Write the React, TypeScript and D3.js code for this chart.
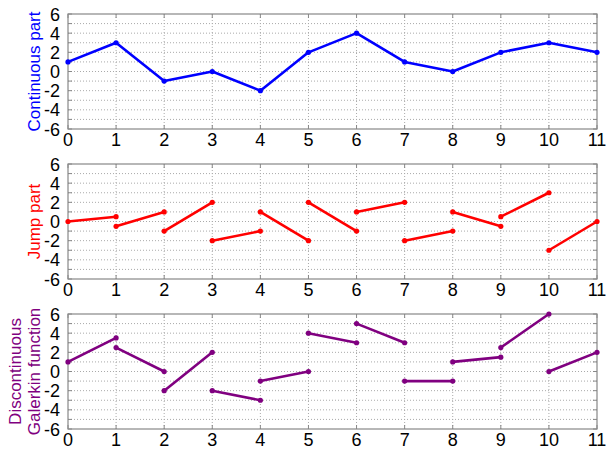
import React from "react"
import * as d3 from "d3"

// nodes 0..11
const nodes = [0, 1, 2, 3, 4, 5, 6, 7, 8, 9, 10, 11]
const yTicks = [6, 4, 2, 0, -2, -4, -6]

// continuous part, value at each node
const continuousValues = [1, 3, -1, 0, -2, 2, 4, 1, 0, 2, 3, 2]

// jump part, per element: value at left end and right end
const jumpLeft = [0, -0.5, -1, -2, 1, 2, 1, -2, 1, 0.5, -3]
const jumpRight = [0.5, 1, 2, -1, -2, -1, 2, -1, -0.5, 3, 0]

// discontinuous galerkin function, per element
const dgLeft = [1, 2.5, -2, -2, -1, 4, 5, -1, 1, 2.5, 0]
const dgRight = [3.5, 0, 2, -3, 0, 3, 3, -1, 1.5, 6, 2]

const W = 606
const H = 451
const left = 68
const right = 597
const panelTops = [14, 164, 314]
const panelH = 115
const font = "Arial, 'Liberation Sans', Helvetica, sans-serif"

type Seg = [number, number][]

interface PanelProps {
  top: number
  color: string
  labels: string[]
  segments: Seg[]
}

const Panel: React.FC<PanelProps> = ({ top, color, labels, segments }) => {
  const x = d3.scaleLinear().domain([0, 11]).range([left, right])
  const y = d3.scaleLinear().domain([-6, 6]).range([top + panelH, top])
  const line = d3.line<[number, number]>().x(d => x(d[0])).y(d => y(d[1]))
  const gridY = d3.range(-5, 6)
  const tickYs = d3.range(-6, 7)
  const midY = top + panelH / 2

  return (
    <g>
      {/* grid */}
      {gridY.map(v => (
        <line key={"gy" + v} x1={left} x2={right} y1={y(v)} y2={y(v)}
          stroke="#aaa" strokeWidth={1} strokeDasharray="1,2" />
      ))}
      {nodes.slice(1, -1).map(v => (
        <line key={"gx" + v} x1={x(v)} x2={x(v)} y1={top} y2={top + panelH}
          stroke="#aaa" strokeWidth={1} strokeDasharray="1,2" />
      ))}
      {/* ticks */}
      {tickYs.map(v => (
        <g key={"ty" + v}>
          <line x1={left} x2={left + 4} y1={y(v)} y2={y(v)} stroke="#888" />
          <line x1={right - 4} x2={right} y1={y(v)} y2={y(v)} stroke="#888" />
        </g>
      ))}
      {nodes.map(v => (
        <g key={"tx" + v}>
          <line x1={x(v)} x2={x(v)} y1={top + panelH} y2={top + panelH - 4} stroke="#888" />
          <line x1={x(v)} x2={x(v)} y1={top} y2={top + 4} stroke="#888" />
        </g>
      ))}
      <rect x={left} y={top} width={right - left} height={panelH} fill="none" stroke="#888" strokeWidth={1.2} />
      {/* tick labels */}
      {yTicks.map(v => (
        <text key={"ly" + v} x={left - 8} y={y(v) + 6.5}
          textAnchor="end" fontSize={18} fontFamily={font} fill="#000">{v}</text>
      ))}
      {nodes.map(v => (
        <text key={"lx" + v} x={x(v)} y={top + panelH + 17}
          textAnchor="middle" fontSize={18} fontFamily={font} fill="#000">{v}</text>
      ))}
      {/* axis title */}
      {labels.map((s, i) => (
        <text key={"t" + i}
          transform={`translate(${labels.length === 1 ? 40 : 21 + i * 19},${midY}) rotate(-90)`}
          textAnchor="middle" fontSize={17} fontFamily={font} fill={color}>{s}</text>
      ))}
      {/* data */}
      {segments.map((seg, i) => (
        <g key={"s" + i}>
          <path d={line(seg) || ""} fill="none" stroke={color} strokeWidth={2.6} strokeLinejoin="round" />
          {seg.map((p, j) => (
            <circle key={j} cx={x(p[0])} cy={y(p[1])} r={2.6} fill={color} />
          ))}
        </g>
      ))}
    </g>
  )
}

const App: React.FC = () => {
  const contSeg: Seg[] = [continuousValues.map((v, i) => [nodes[i], v] as [number, number])]
  const jumpSegs: Seg[] = jumpLeft.map((v, i) => [[nodes[i], v], [nodes[i + 1], jumpRight[i]]])
  const dgSegs: Seg[] = dgLeft.map((v, i) => [[nodes[i], v], [nodes[i + 1], dgRight[i]]])

  return (
    <svg width={W} height={H} style={{ position: "absolute", left: 0, top: 0, background: "#fff" }}>
      <rect width={W} height={H} fill="#fff" />
      <Panel top={panelTops[0]} color="#0000ff" labels={["Continuous part"]} segments={contSeg} />
      <Panel top={panelTops[1]} color="#ff0000" labels={["Jump part"]} segments={jumpSegs} />
      <Panel top={panelTops[2]} color="#800080" labels={["Discontinuous", "Galerkin function"]} segments={dgSegs} />
    </svg>
  )
}

export default App
